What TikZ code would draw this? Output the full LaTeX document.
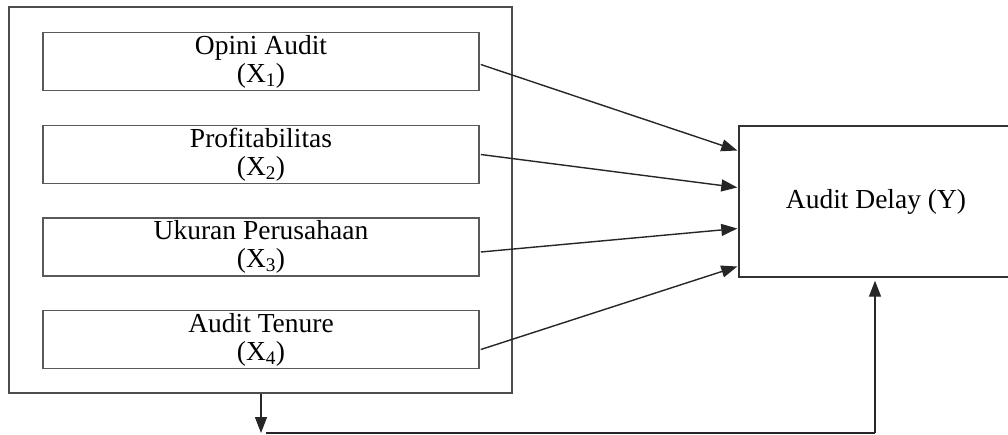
\documentclass[tikz,border=0pt]{standalone}
\usepackage{fontspec}
\setmainfont{Liberation Serif}
\usetikzlibrary{arrows.meta,calc}
\tikzset{
  outerbox/.style={draw=black!70, line width=1.6pt, minimum width=503pt, minimum height=386pt, inner sep=0pt},
  varbox/.style={draw=black!65, line width=1.6pt, minimum width=436pt, minimum height=58pt, inner sep=0pt, align=center, font=\fontsize{27.5}{28}\selectfont},
  ybox/.style={draw=black!80, line width=1.4pt, minimum width=274pt, minimum height=151pt, inner sep=0pt, font=\fontsize{27.5}{28}\selectfont},
  conn/.style={draw=black!85, line width=1.4pt, -{Triangle[length=16pt,width=12pt]}},
  plain/.style={draw=black!85, line width=1.4pt}
}
\begin{document}
\begin{tikzpicture}[x=1pt,y=-1pt]
\useasboundingbox (0,0) rectangle (1008,434);
\clip (0,0) rectangle (1008,434);
\node[outerbox] (outer) at (260.5,200) {};
\node[varbox] (b1) at (261,61.5) {Opini Audit\\(X\textsubscript{1})};
\node[varbox] (b2) at (261,154.5) {Profitabilitas\\(X\textsubscript{2})};
\node[varbox] (b3) at (261,247) {Ukuran Perusahaan\\(X\textsubscript{3})};
\node[varbox] (b4) at (261,339.5) {Audit Tenure\\(X\textsubscript{4})};
\node[ybox] (y) at (876,201.5) {Audit Delay (Y)};
\draw[conn] ($(b1.east)+(1,3)$) -- ($(y.west)+(-1,-51)$);
\draw[conn] ($(b2.east)+(1,0)$) -- ($(y.west)+(-1,-14)$);
\draw[conn] ($(b3.east)+(1,5)$) -- ($(y.west)+(-1,27)$);
\draw[conn] ($(b4.east)+(1,10)$) -- ($(y.west)+(-1,65)$);
\coordinate (d) at (261,433);
\coordinate (e) at (875,433);
\draw[conn] (outer.south -| d) -- (d);
\draw[plain] ($(d)+(5,0)$) -- (e);
\draw[conn] (e) -- ($(y.south -| e)+(0,3)$);
\end{tikzpicture}
\end{document}
